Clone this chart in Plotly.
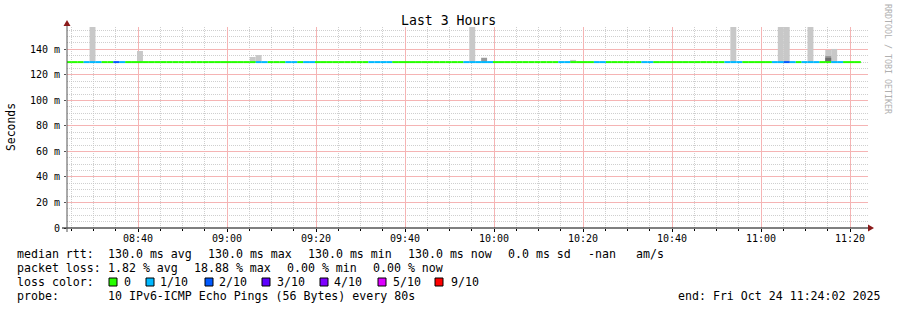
import pandas as pd
import plotly.graph_objects as go

# ---------------- data ----------------
STEP_T0 = "2025-10-24 08:23:46"   # start of step 0
STEP_SEC = 80
N_STEPS = 134
MEDIAN_RTT = 130.0  # ms

# steps with 1/10 and 2/10 packet loss (all others: 0 loss)
LOSS_1_STEPS = [3, 4, 5, 9, 32, 33, 37, 38, 40, 41, 51, 52, 53, 54, 67, 68, 69, 70, 71,
                83, 84, 89, 90, 97, 98, 111, 112, 113, 119, 120, 122, 124, 125, 126, 129, 130]
LOSS_2_STEPS = [8, 121]

# smoke (ping spread) per step: top of light / mid / dark layers (ms)
SMOKE_LIGHT_STEPS = [4, 12, 31, 32, 68, 85, 112, 120, 121, 125, 128, 129]
SMOKE_LIGHT_TOP = [170, 138.7, 134.0, 135.5, 170, 131.7, 170, 170, 170, 170, 139.5, 140.3]
SMOKE_MID_STEPS = [70, 128]
SMOKE_MID_TOP = [133.4, 134.8]
SMOKE_DARK_STEPS = [128]
SMOKE_DARK_TOP = [133.4]

X_RANGE = ["2025-10-24 08:24:02", "2025-10-24 11:24:02"]
Y_RANGE = [0, 157.5]
X_TICKS = ["2025-10-24 08:40", "2025-10-24 09:00", "2025-10-24 09:20", "2025-10-24 09:40",
           "2025-10-24 10:00", "2025-10-24 10:20", "2025-10-24 10:40", "2025-10-24 11:00",
           "2025-10-24 11:20"]
Y_TICKS = [0, 20, 40, 60, 80, 100, 120, 140]
Y_TICK_LABELS = ["0", "20 m", "40 m", "60 m", "80 m", "100 m", "120 m", "140 m"]

LOSS_COLORS = {0: "#26ff00", 1: "#00b8ff", 2: "#0059ff"}
LEGEND_LOSS_LABELS = ["0", "1/10", "2/10", "3/10", "4/10", "5/10", "9/10"]
LEGEND_LOSS_COLORS = ["#26ff00", "#00b8ff", "#0059ff", "#5e00ff", "#7e00ff", "#dd00ff", "#ff0000"]

# ---------------- geometry helpers ----------------
W, H = 897, 310
L, R, T, B = 67, 868, 27, 228
PW, PH = R - L, B - T


def px(x):
    return (x - L) / PW


def py(y):
    return (B - y) / PH


t0 = pd.Timestamp(STEP_T0)
step = pd.Timedelta(seconds=STEP_SEC)


def s_start(k):
    return t0 + k * step


def s_center(k):
    return t0 + k * step + step / 2


FONT = "DejaVu Sans Mono"
fig = go.Figure()


def smoke(steps, tops, color):
    fig.add_trace(go.Bar(
        x=[s_center(k) for k in steps],
        y=[t - MEDIAN_RTT for t in tops],
        base=[MEDIAN_RTT] * len(steps),
        width=[STEP_SEC * 1000] * len(steps),
        marker=dict(color=color, line=dict(width=0)),
        hoverinfo="skip", showlegend=False,
    ))


smoke(SMOKE_LIGHT_STEPS, SMOKE_LIGHT_TOP, "#c8c8c8")
smoke(SMOKE_MID_STEPS, SMOKE_MID_TOP, "#9a9a9a")
smoke(SMOKE_DARK_STEPS, SMOKE_DARK_TOP, "#6e6e6e")

# median line coloured by loss
loss = [0] * N_STEPS
for k in LOSS_1_STEPS:
    loss[k] = 1
for k in LOSS_2_STEPS:
    loss[k] = 2
for lvl, col in LOSS_COLORS.items():
    xs, ys = [], []
    for k in range(N_STEPS):
        if loss[k] == lvl:
            xs += [s_start(k), s_start(k + 1), None]
            ys += [MEDIAN_RTT, MEDIAN_RTT, None]
    fig.add_trace(go.Scatter(x=xs, y=ys, mode="lines",
                             line=dict(color=col, width=2),
                             hoverinfo="skip", showlegend=False))

MAJ = "#f5b4b4"
MIN = "rgba(195,195,195,0.8)"

x_minor = [t for t in pd.date_range("2025-10-24 08:25", "2025-10-24 11:20", freq="5min")
           if t.minute % 20 != 0]
y_minor = [v for v in range(5, 160, 5) if v % 20 != 0]

fig.update_layout(
    width=W, height=H,
    margin=dict(l=L, r=W - R, t=T, b=H - B),
    paper_bgcolor="white", plot_bgcolor="white",
    barmode="overlay", showlegend=False,
    font=dict(family=FONT, color="black", size=10),
    xaxis=dict(
        type="date", range=X_RANGE,
        tickmode="array", tickvals=X_TICKS, tickformat="%H:%M",
        showgrid=True, gridcolor=MAJ, gridwidth=1, griddash="solid",
        ticks="outside", ticklen=3, tickcolor="black", ticklabelstandoff=-2,
        minor=dict(tickmode="array", tickvals=x_minor, showgrid=True, gridcolor=MIN,
                   griddash="1px,1px", ticks="outside", ticklen=2, tickcolor="black"),
        showline=False, zeroline=False,
        tickfont=dict(family=FONT, size=10),
    ),
    yaxis=dict(
        range=Y_RANGE, tickvals=Y_TICKS, ticktext=Y_TICK_LABELS,
        showgrid=True, gridcolor=MAJ, gridwidth=1, griddash="solid",
        ticks="outside", ticklen=2, tickcolor="#555", ticklabelstandoff=2,
        minor=dict(tickmode="array", tickvals=y_minor, showgrid=True, gridcolor=MIN,
                   griddash="1px,1px"),
        showline=False, zeroline=False,
        tickfont=dict(family=FONT, size=10),
    ),
)

shapes = []
# axes lines
shapes.append(dict(type="line", xref="paper", yref="paper",
                   x0=px(62), x1=px(869), y0=0, y1=0, line=dict(color="black", width=1)))
shapes.append(dict(type="line", xref="paper", yref="paper",
                   x0=0, x1=0, y0=py(232), y1=py(24), line=dict(color="#555555", width=1)))
# arrows
shapes.append(dict(type="path", xref="paper", yref="paper",
                   path=f"M {px(868)} {py(224.5)} L {px(874)} {py(228)} L {px(868)} {py(231.5)} Z",
                   fillcolor="#8b1a1a", line=dict(width=0)))
shapes.append(dict(type="path", xref="paper", yref="paper",
                   path=f"M {px(63.5)} {py(26)} L {px(67)} {py(20)} L {px(70.5)} {py(26)} Z",
                   fillcolor="#8b1a1a", line=dict(width=0)))
# legend colour squares
SQ_X = [109, 146, 205, 262, 320, 378, 435]
for xx, c in zip(SQ_X, LEGEND_LOSS_COLORS):
    shapes.append(dict(type="rect", xref="paper", yref="paper",
                       x0=px(xx), x1=px(xx + 8), y0=py(286), y1=py(278),
                       fillcolor=c, line=dict(color="black", width=1)))
fig.update_layout(shapes=shapes)

TF = dict(family=FONT, size=11.6, color="black")
ann = []


def text(x, y, s, anchor="left", font=TF, angle=0):
    ann.append(dict(xref="paper", yref="paper", x=px(x), y=py(y), text=s,
                    showarrow=False, xanchor=anchor, yanchor="middle",
                    font=font, textangle=angle, borderpad=0))


text(448, 20, "Last 3 Hours", anchor="center", font=dict(family=FONT, size=13.2, color="black"))
text(11, 127, "Seconds", anchor="center", font=dict(family=FONT, size=11.4, color="black"), angle=-90)
text(888, 59, "RRDTOOL / TOBI OETIKER", anchor="center",
     font=dict(family=FONT, size=8.3, color="#b0b0b0"), angle=90)

ROW = [254, 268, 282, 296]
text(16, ROW[0], "median rtt:")
for x, s in zip([107, 207, 307, 407, 507, 587, 635],
                ["130.0 ms avg", "130.0 ms max", "130.0 ms min", "130.0 ms now",
                 "0.0 ms sd", "-nan", "am/s"]):
    text(x, ROW[0], s)
text(16, ROW[1], "packet loss:")
for x, s in zip([107, 193, 286, 372], ["1.82 % avg", "18.88 % max", "0.00 % min", "0.00 % now"]):
    text(x, ROW[1], s)
text(16, ROW[2], "loss color:")
for x, s in zip([123, 159, 218, 276, 333, 392, 450], LEGEND_LOSS_LABELS):
    text(x, ROW[2], s)
text(16, ROW[3], "probe:")
text(107, ROW[3], "10 IPv6-ICMP Echo Pings (56 Bytes) every 80s")
text(881, ROW[3], "end: Fri Oct 24 11:24:02 2025", anchor="right")
fig.update_layout(annotations=ann)

fig.write_html("out.html")
